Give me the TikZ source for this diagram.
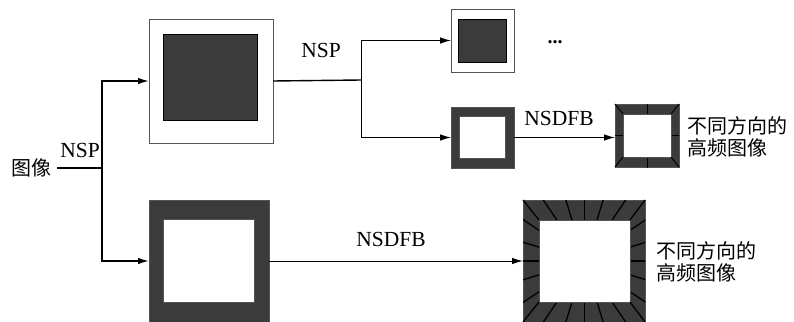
\documentclass[tikz,border=0pt]{standalone}
\usepackage{fontspec}
\setmainfont{Liberation Serif}
\newfontfamily\cjk{Noto Sans CJK SC}
\usetikzlibrary{arrows.meta}
\definecolor{darkfill}{HTML}{3B3B3B}
\definecolor{edgegray}{HTML}{555555}
\tikzset{
  outerbox/.style={draw=edgegray, line width=0.8pt, inner sep=0pt, outer sep=0pt},
  darkbox/.style={draw=black, fill=darkfill, line width=0.8pt, inner sep=0pt, outer sep=0pt},
  whitebox/.style={draw=edgegray, fill=white, line width=0.8pt, inner sep=0pt, outer sep=0pt},
  lbl/.style={font=\fontsize{21.5}{24}\selectfont, inner sep=0pt},
  cjklbl/.style={font=\cjk\fontsize{20}{22.5}\selectfont, align=left, anchor=west, inner sep=0pt},
  conn/.style={line width=1pt, -{Latex[length=11pt,width=6.5pt]}},
  connthick/.style={line width=1.5pt, -{Latex[length=11pt,width=6.5pt]}},
  ray/.style={line width=1.3pt, black},
}
\begin{document}
\begin{tikzpicture}[x=1pt,y=-1pt]
\useasboundingbox (0,0) rectangle (794,321);

% text
\node[lbl, font=\cjk\fontsize{20}{22.5}\selectfont] (img) at (31,168) {图像};
\node[lbl] (nsp1) at (80,150.5) {NSP};
\node[lbl] (nsp2) at (321,50) {NSP};
\node[lbl] (nsdfb1) at (559,118.5) {NSDFB};
\node[lbl] (nsdfb2) at (391,239.5) {NSDFB};
\node[lbl, anchor=base, font=\bfseries\fontsize{20}{24}\selectfont] (dots) at (555,44) {...};
\node[cjklbl] (out1) at (687,137) {不同方向的\\高频图像};
\node[cjklbl] (out2) at (656,262) {不同方向的\\高频图像};

% top big box (low-pass)
\node[outerbox, fill=white, minimum width=124pt, minimum height=124pt] (big1) at (211,81) {};
\node[darkbox, minimum width=94pt, minimum height=86pt] (big1in) at (210,77) {};

% bottom big box (high-pass)
\node[darkbox, draw=edgegray, minimum width=120pt, minimum height=122pt] (big2) at (209,261) {};
\node[whitebox, minimum width=91pt, minimum height=83pt] (big2in) at (208.5,260.5) {};

% small top box
\node[outerbox, fill=white, minimum width=63pt, minimum height=63pt] (sm1) at (482.5,40.5) {};
\node[darkbox, minimum width=48pt, minimum height=43pt] (sm1in) at (482,40.5) {};

% small middle box
\node[darkbox, draw=edgegray, minimum width=63pt, minimum height=61pt] (sm2) at (482.5,137.5) {};
\node[whitebox, minimum width=46pt, minimum height=42pt] (sm2in) at (482,137) {};

% small directional box
\node[darkbox, draw=edgegray, minimum width=64pt, minimum height=63pt] (rad1) at (647,135.5) {};
\begin{scope}
  \clip (rad1.south west) rectangle (rad1.north east);
  \foreach \a in {0,90,180,270} \draw[ray, line width=1pt] (647,135.5) -- ++(\a:60);
\end{scope}
\node[whitebox, minimum width=48pt, minimum height=43pt] (rad1in) at (647,135.5) {};
\foreach \c in {north west, north east, south west, south east}
  \draw[ray, line width=1pt] (rad1in.\c) -- (rad1.\c);

% big directional box
\node[darkbox, draw=edgegray, minimum width=122pt, minimum height=122pt] (rad2) at (584,261) {};
\begin{scope}
  \clip (rad2.south west) rectangle (rad2.north east);
  \foreach \a in {0,17,34,56,73,90,107,124,146,163,180,197,214,236,253,270,287,304,326,343}
    \draw[ray] (584.5,261) -- ++(\a:100);
\end{scope}
\node[whitebox, minimum width=91pt, minimum height=82pt] (rad2in) at (584.5,261) {};
\foreach \c in {north west, north east, south west, south east}
  \draw[ray] (rad2in.\c) -- (rad2.\c);

% connectors
\coordinate (split1) at (102,168);
\coordinate (split2) at (361,80);
\draw[line width=1.5pt] (img.east) ++(6,0) coordinate (imgout) -- (split1);
\draw[connthick] (split1) |- (big1.west);
\draw[connthick] (split1) |- (big2.west);
\draw[line width=1.4pt] (big1.east) -- (split2);
\draw[conn] (split2) |- (sm1.west);
\draw[conn] (split2) |- (sm2.west);
\draw[conn] (sm2.east) -- (sm2.east -| rad1.west);
\draw[conn] (big2.east) -- (rad2.west);
\end{tikzpicture}
\end{document}
